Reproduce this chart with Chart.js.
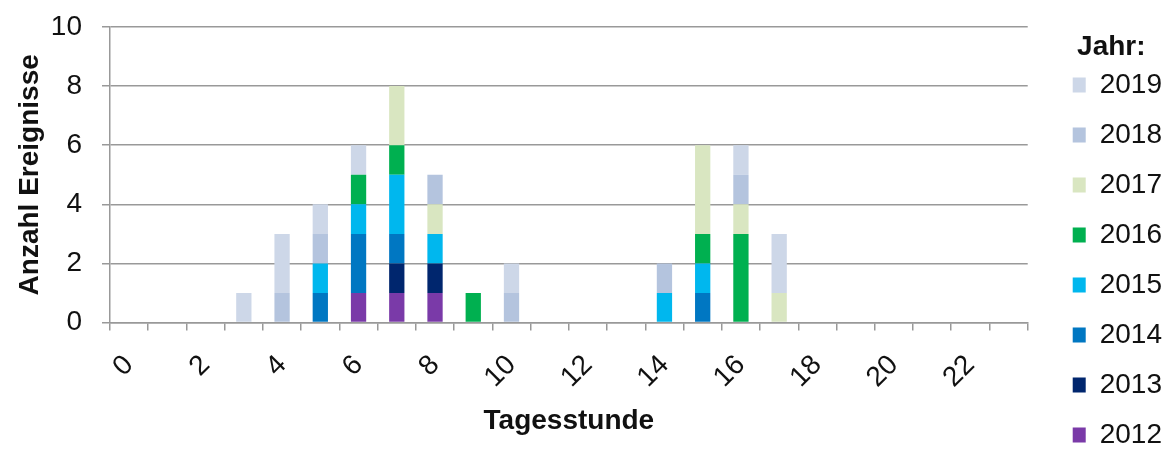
<!DOCTYPE html>
<html>
<head>
<meta charset="utf-8">
<script src="https://cdn.jsdelivr.net/npm/chart.js@4"></script>
<style>
  body { margin: 0; background: #fff; }
  #wrap { width: 1168px; height: 449px; }
</style>
</head>
<body>
<div id="wrap"><canvas id="hourChart"></canvas></div>
<script>
// Stunden 0..23
const hours = ['0','1','2','3','4','5','6','7','8','9','10','11','12','13','14','15','16','17','18','19','20','21','22','23'];

// Anzahl Ereignisse je Jahr und Tagesstunde
const y2012 = [0,0,0,0,0,0,1,1,1,0,0,0,0,0,0,0,0,0,0,0,0,0,0,0];
const y2013 = [0,0,0,0,0,0,0,1,1,0,0,0,0,0,0,0,0,0,0,0,0,0,0,0];
const y2014 = [0,0,0,0,0,1,2,1,0,0,0,0,0,0,0,1,0,0,0,0,0,0,0,0];
const y2015 = [0,0,0,0,0,1,1,2,1,0,0,0,0,0,1,1,0,0,0,0,0,0,0,0];
const y2016 = [0,0,0,0,0,0,1,1,0,1,0,0,0,0,0,1,3,0,0,0,0,0,0,0];
const y2017 = [0,0,0,0,0,0,0,2,1,0,0,0,0,0,0,3,1,1,0,0,0,0,0,0];
const y2018 = [0,0,0,0,1,1,0,0,1,0,1,0,0,0,1,0,1,0,0,0,0,0,0,0];
const y2019 = [0,0,0,1,2,1,1,0,0,0,1,0,0,0,0,0,1,2,0,0,0,0,0,0];

const years = ['2012','2013','2014','2015','2016','2017','2018','2019'];
const values = [y2012, y2013, y2014, y2015, y2016, y2017, y2018, y2019];
const colors = ['#7a3aa8','#00266e','#0077c2','#00b7ee','#00b050','#d9e6c1','#b4c4de','#cdd7e8'];

const yTicks = { min: 0, max: 10, step: 2 };

const axisGrey = '#999999';
const textColor = '#111';

// Legende etwas nach rechts/unten schieben, wie im Original
const legendShift = {
    id: 'legendShift',
    afterLayout(chart) {
        const lg = chart.legend;
        lg.left += 23; lg.right += 23;
        lg.top += 23; lg.bottom += 23;
    }
};

const ctx = document.getElementById('hourChart').getContext('2d');

new Chart(ctx, {
    type: 'bar',
    data: {
        labels: hours,
        datasets: years.map((yr, i) => ({
            label: yr,
            data: values[i],
            backgroundColor: colors[i],
            borderWidth: 0,
            barPercentage: 0.4,
            categoryPercentage: 1.0
        }))
    },
    options: {
        responsive: true,
        maintainAspectRatio: false,
        animation: false,
        layout: { padding: { left: 9, right: 19 } },
        scales: {
            x: {
                stacked: true,
                afterFit(scale) { scale.paddingLeft = 0; scale.paddingRight = 0; },
                grid: {
                    display: true,
                    offset: true,
                    drawOnChartArea: false,
                    drawTicks: true,
                    tickLength: 8,
                    color: axisGrey,
                    lineWidth: 1.5
                },
                border: { display: true, color: axisGrey, width: 1.5 },
                ticks: {
                    autoSkip: false,
                    minRotation: 45,
                    maxRotation: 45,
                    padding: 18,
                    color: textColor,
                    font: { family: 'Liberation Sans', size: 28 },
                    callback: (v, i) => (i % 2 === 0 ? hours[i] : '')
                },
                title: {
                    display: true,
                    text: 'Tagesstunde',
                    color: textColor,
                    font: { family: 'Liberation Sans', size: 28, weight: 'bold' },
                    padding: { top: -8, bottom: 11 }
                }
            },
            y: {
                stacked: true,
                min: yTicks.min,
                max: yTicks.max,
                afterFit(scale) { scale.paddingTop = 27; scale.width = 101; },
                grid: {
                    color: axisGrey,
                    lineWidth: 1.5,
                    drawTicks: true,
                    tickLength: 8
                },
                border: { display: true, color: axisGrey, width: 1.5 },
                ticks: {
                    stepSize: yTicks.step,
                    padding: 20,
                    color: textColor,
                    font: { family: 'Liberation Sans', size: 28 }
                },
                title: {
                    display: true,
                    text: 'Anzahl Ereignisse',
                    color: textColor,
                    font: { family: 'Liberation Sans', size: 28, weight: 'bold' }
                }
            }
        },
        plugins: {
            legend: {
                display: true,
                position: 'right',
                align: 'start',
                reverse: true,
                title: {
                    display: true,
                    text: 'Jahr:',
                    color: textColor,
                    position: 'center',
                    font: { family: 'Liberation Sans', size: 28, weight: 'bold', lineHeight: '16px' },
                    padding: { top: 10, bottom: 0 }
                },
                labels: {
                    boxWidth: 13,
                    boxHeight: 15,
                    padding: 22,
                    color: textColor,
                    font: { family: 'Liberation Sans', size: 28 }
                }
            },
            tooltip: { enabled: true }
        }
    },
    plugins: [legendShift]
});
</script>
</body>
</html>
